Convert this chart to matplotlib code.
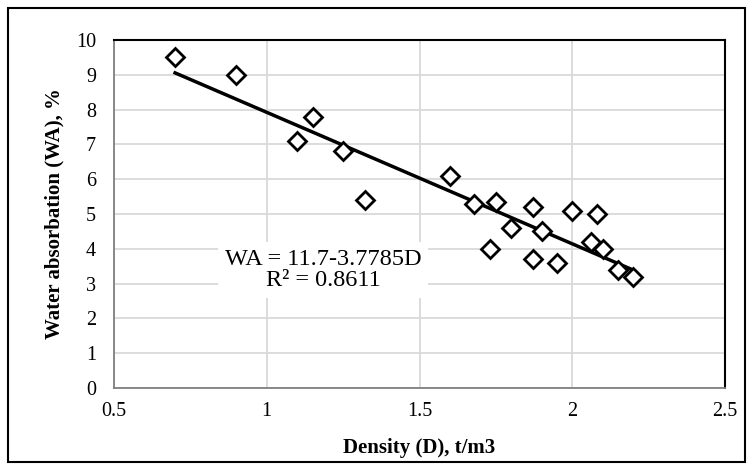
import numpy as np
import matplotlib.pyplot as plt
from matplotlib.patches import Rectangle

plt.rcParams['font.family'] = ['Liberation Serif', 'DejaVu Serif']

density = [0.7, 0.9, 1.1, 1.15, 1.25, 1.32, 1.6, 1.68, 1.73, 1.75, 1.8,
           1.87, 1.87, 1.9, 1.95, 2.0, 2.06, 2.08, 2.1, 2.15, 2.2]
water_abs = [9.5, 9.0, 7.1, 7.8, 6.8, 5.4, 6.1, 5.3, 4.0, 5.35, 4.6,
             3.7, 5.2, 4.5, 3.6, 5.1, 4.2, 5.0, 4.0, 3.4, 3.2]
intercept = 11.7
slope = -3.7785
r2 = 0.8611

fig = plt.figure(figsize=(7.55, 4.70), dpi=100)
ax = fig.add_axes([114 / 755, 1 - 388 / 470, (725 - 114) / 755, (388 - 40) / 470])

ax.plot(density, water_abs, linestyle='none', marker='D', ms=9, mfc='white',
        mec='black', mew=2, zorder=3)

xt = np.array([min(density), max(density)])
ax.plot(xt, intercept + slope * xt, color='black', lw=2.5, zorder=2)

ax.set_xlim(0.5, 2.5)
ax.set_ylim(0, 10)
ax.set_xticks([0.5, 1, 1.5, 2, 2.5])
ax.set_xticklabels(['0.5', '1', '1.5', '2', '2.5'])
ax.set_yticks(range(0, 11))
ax.grid(True, color='#d9d9d9', lw=1.3)
ax.set_axisbelow(True)
ax.tick_params(length=0, labelsize=14.5)
ax.tick_params(axis='x', pad=10)
ax.tick_params(axis='y', pad=13)

for s in ['left', 'bottom']:
    ax.spines[s].set_color('#808080')
    ax.spines[s].set_linewidth(1.3)
for s in ['top', 'right']:
    ax.spines[s].set_color('black')
    ax.spines[s].set_linewidth(1.5)

ax.set_xlabel('Density (D), t/m3', fontsize=15, fontweight='bold', labelpad=12)
ax.set_ylabel('Water absorbation (WA), %', fontsize=15, fontweight='bold', labelpad=8)

ax.text(1.184, 3.39, f'WA = {intercept}-{abs(slope)}D\nR² = {r2}', fontsize=17.5,
        ha='center', va='center', linespacing=1.0,
        bbox=dict(facecolor='white', edgecolor='none', pad=5), zorder=4)

fig.patches.append(Rectangle((8 / 755, 8 / 470), 737 / 755, 454 / 470,
                             transform=fig.transFigure, fill=False,
                             edgecolor='black', lw=1.5))

fig.savefig('out.png', dpi=100)
